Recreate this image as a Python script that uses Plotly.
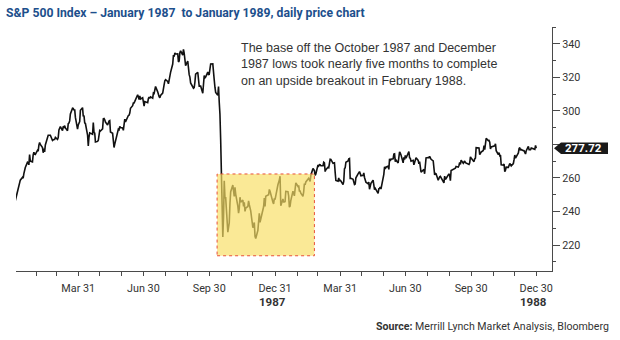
import plotly.graph_objects as go

# ---------------- data (daily closes) ----------------
h1_1987 = [
    ("1987-01-02", 246.45), ("1987-01-05", 252.19), ("1987-01-06", 252.78), ("1987-01-07", 255.33),
    ("1987-01-08", 257.28), ("1987-01-09", 258.73), ("1987-01-12", 260.30), ("1987-01-13", 259.95),
    ("1987-01-14", 262.64), ("1987-01-15", 265.49), ("1987-01-16", 266.28), ("1987-01-19", 269.34),
    ("1987-01-20", 269.04), ("1987-01-21", 267.84), ("1987-01-22", 273.91), ("1987-01-23", 270.10),
    ("1987-01-26", 269.61), ("1987-01-27", 273.75), ("1987-01-28", 275.40), ("1987-01-29", 274.24),
    ("1987-01-30", 274.08), ("1987-02-02", 276.45), ("1987-02-03", 275.99), ("1987-02-04", 279.64),
    ("1987-02-05", 281.16), ("1987-02-06", 280.04), ("1987-02-09", 278.16), ("1987-02-10", 275.07),
    ("1987-02-11", 277.54), ("1987-02-12", 275.62), ("1987-02-13", 279.70), ("1987-02-17", 285.49),
    ("1987-02-18", 285.42), ("1987-02-19", 285.57), ("1987-02-20", 285.48), ("1987-02-23", 282.38),
    ("1987-02-24", 282.88), ("1987-02-25", 283.00), ("1987-02-26", 282.96), ("1987-02-27", 284.20),
    ("1987-03-02", 283.00), ("1987-03-03", 284.12), ("1987-03-04", 288.62), ("1987-03-05", 290.52),
    ("1987-03-06", 290.66), ("1987-03-09", 288.30), ("1987-03-10", 290.86), ("1987-03-11", 290.31),
    ("1987-03-12", 291.22), ("1987-03-13", 289.89), ("1987-03-16", 288.23), ("1987-03-17", 292.47),
    ("1987-03-18", 292.78), ("1987-03-19", 294.08), ("1987-03-20", 298.17), ("1987-03-23", 301.64),
    ("1987-03-24", 301.52), ("1987-03-25", 300.38), ("1987-03-26", 300.93), ("1987-03-27", 296.13),
    ("1987-03-30", 289.20), ("1987-03-31", 291.70), ("1987-04-01", 292.39), ("1987-04-02", 293.63),
    ("1987-04-03", 300.41), ("1987-04-06", 301.95), ("1987-04-07", 296.69), ("1987-04-08", 297.26),
    ("1987-04-09", 292.86), ("1987-04-10", 292.49), ("1987-04-13", 285.62), ("1987-04-14", 279.16),
    ("1987-04-15", 284.44), ("1987-04-16", 286.91), ("1987-04-20", 286.09), ("1987-04-21", 293.07),
    ("1987-04-22", 287.19), ("1987-04-23", 286.82), ("1987-04-24", 281.52), ("1987-04-27", 281.83),
    ("1987-04-28", 282.51), ("1987-04-29", 284.57), ("1987-04-30", 288.36), ("1987-05-01", 288.03),
    ("1987-05-04", 289.36), ("1987-05-05", 295.34), ("1987-05-06", 295.47), ("1987-05-07", 294.71),
    ("1987-05-08", 293.37), ("1987-05-11", 291.57), ("1987-05-12", 293.30), ("1987-05-13", 293.98),
    ("1987-05-14", 294.24), ("1987-05-15", 287.43), ("1987-05-18", 286.65), ("1987-05-19", 279.62),
    ("1987-05-20", 278.21), ("1987-05-21", 280.17), ("1987-05-22", 282.16), ("1987-05-26", 289.11),
    ("1987-05-27", 288.73), ("1987-05-28", 290.76), ("1987-05-29", 290.10), ("1987-06-01", 289.83),
    ("1987-06-02", 288.46), ("1987-06-03", 293.47), ("1987-06-04", 295.09), ("1987-06-05", 293.45),
    ("1987-06-08", 296.72), ("1987-06-09", 297.28), ("1987-06-10", 297.47), ("1987-06-11", 298.73),
    ("1987-06-12", 301.62), ("1987-06-15", 303.14), ("1987-06-16", 304.76), ("1987-06-17", 304.81),
    ("1987-06-18", 305.69), ("1987-06-19", 306.97), ("1987-06-22", 309.65), ("1987-06-23", 308.43),
    ("1987-06-24", 306.86), ("1987-06-25", 308.96), ("1987-06-26", 307.16), ("1987-06-29", 307.90),
    ("1987-06-30", 304.00),
]
h2_1987 = [
    ("1987-07-01", 302.94), ("1987-07-02", 305.63), ("1987-07-06", 304.92), ("1987-07-07", 307.40),
    ("1987-07-08", 308.29), ("1987-07-09", 307.52), ("1987-07-10", 308.37), ("1987-07-13", 307.63),
    ("1987-07-14", 310.68), ("1987-07-15", 310.42), ("1987-07-16", 312.70), ("1987-07-17", 314.59),
    ("1987-07-20", 311.39), ("1987-07-21", 308.55), ("1987-07-22", 308.47), ("1987-07-23", 307.81),
    ("1987-07-24", 309.27), ("1987-07-27", 310.65), ("1987-07-28", 312.33), ("1987-07-29", 315.65),
    ("1987-07-30", 318.05), ("1987-07-31", 318.66), ("1987-08-03", 317.57), ("1987-08-04", 316.23),
    ("1987-08-05", 318.45), ("1987-08-06", 322.10), ("1987-08-07", 323.00), ("1987-08-10", 328.00),
    ("1987-08-11", 333.33), ("1987-08-12", 332.39), ("1987-08-13", 334.65), ("1987-08-14", 333.99),
    ("1987-08-17", 334.11), ("1987-08-18", 329.25), ("1987-08-19", 329.83), ("1987-08-20", 334.84),
    ("1987-08-21", 335.90), ("1987-08-24", 333.33), ("1987-08-25", 336.77), ("1987-08-26", 334.57),
    ("1987-08-27", 331.38), ("1987-08-28", 327.04), ("1987-08-31", 329.80), ("1987-09-01", 323.40),
    ("1987-09-02", 321.68), ("1987-09-03", 320.21), ("1987-09-04", 316.70), ("1987-09-08", 313.56),
    ("1987-09-09", 313.92), ("1987-09-10", 317.13), ("1987-09-11", 321.98), ("1987-09-14", 323.08),
    ("1987-09-15", 317.74), ("1987-09-16", 314.86), ("1987-09-17", 314.93), ("1987-09-18", 314.86),
    ("1987-09-21", 310.54), ("1987-09-22", 319.50), ("1987-09-23", 321.19), ("1987-09-24", 319.72),
    ("1987-09-25", 320.16), ("1987-09-28", 323.20), ("1987-09-29", 321.69), ("1987-09-30", 321.83),
    ("1987-10-01", 327.33), ("1987-10-02", 328.07), ("1987-10-05", 328.08), ("1987-10-06", 319.22),
    ("1987-10-07", 318.54), ("1987-10-08", 314.16), ("1987-10-09", 311.07), ("1987-10-12", 309.39),
    ("1987-10-13", 314.52), ("1987-10-14", 305.23), ("1987-10-15", 298.08), ("1987-10-16", 282.70),
    ("1987-10-19", 224.84), ("1987-10-20", 236.83), ("1987-10-21", 258.38), ("1987-10-22", 248.25),
    ("1987-10-23", 248.22), ("1987-10-26", 227.67), ("1987-10-27", 233.19), ("1987-10-28", 233.28),
    ("1987-10-29", 244.77), ("1987-10-30", 251.79), ("1987-11-02", 255.75), ("1987-11-03", 250.82),
    ("1987-11-04", 248.96), ("1987-11-05", 254.48), ("1987-11-06", 250.41), ("1987-11-09", 243.17),
    ("1987-11-10", 239.00), ("1987-11-11", 241.90), ("1987-11-12", 248.52), ("1987-11-13", 245.64),
    ("1987-11-16", 246.76), ("1987-11-17", 243.04), ("1987-11-18", 245.55), ("1987-11-19", 240.05),
    ("1987-11-20", 242.00), ("1987-11-23", 242.99), ("1987-11-24", 246.39), ("1987-11-25", 244.10),
    ("1987-11-27", 240.34), ("1987-11-30", 230.30), ("1987-12-01", 232.00), ("1987-12-02", 233.45),
    ("1987-12-03", 225.21), ("1987-12-04", 223.92), ("1987-12-07", 228.76), ("1987-12-08", 234.91),
    ("1987-12-09", 238.89), ("1987-12-10", 233.57), ("1987-12-11", 235.32), ("1987-12-14", 242.19),
    ("1987-12-15", 242.81), ("1987-12-16", 248.08), ("1987-12-17", 242.98), ("1987-12-18", 249.16),
    ("1987-12-21", 249.54), ("1987-12-22", 249.95), ("1987-12-23", 253.16), ("1987-12-24", 252.03),
    ("1987-12-28", 245.57), ("1987-12-29", 244.59), ("1987-12-30", 247.86), ("1987-12-31", 247.08),
]
h1_1988 = [
    ("1988-01-04", 255.94), ("1988-01-05", 258.63), ("1988-01-06", 258.89), ("1988-01-07", 261.07),
    ("1988-01-08", 243.40), ("1988-01-11", 247.49), ("1988-01-12", 245.42), ("1988-01-13", 245.81),
    ("1988-01-14", 245.88), ("1988-01-15", 252.05), ("1988-01-18", 251.88), ("1988-01-19", 249.32),
    ("1988-01-20", 242.63), ("1988-01-21", 243.14), ("1988-01-22", 246.50), ("1988-01-25", 252.17),
    ("1988-01-26", 249.57), ("1988-01-27", 249.38), ("1988-01-28", 253.29), ("1988-01-29", 257.07),
    ("1988-02-01", 255.04), ("1988-02-02", 255.57), ("1988-02-03", 252.21), ("1988-02-04", 252.21),
    ("1988-02-05", 250.96), ("1988-02-08", 249.10), ("1988-02-09", 251.72), ("1988-02-10", 256.66),
    ("1988-02-11", 255.95), ("1988-02-12", 257.63), ("1988-02-16", 259.83), ("1988-02-17", 259.21),
    ("1988-02-18", 257.91), ("1988-02-19", 261.61), ("1988-02-22", 265.64), ("1988-02-23", 265.02),
    ("1988-02-24", 264.43), ("1988-02-25", 261.58), ("1988-02-26", 262.46), ("1988-02-29", 267.82),
    ("1988-03-01", 267.22), ("1988-03-02", 267.98), ("1988-03-03", 267.88), ("1988-03-04", 267.30),
    ("1988-03-07", 267.38), ("1988-03-08", 269.43), ("1988-03-09", 269.06), ("1988-03-10", 263.84),
    ("1988-03-11", 264.94), ("1988-03-14", 266.37), ("1988-03-15", 266.13), ("1988-03-16", 268.65),
    ("1988-03-17", 271.22), ("1988-03-18", 271.12), ("1988-03-21", 268.74), ("1988-03-22", 268.84),
    ("1988-03-23", 269.06), ("1988-03-24", 263.35), ("1988-03-25", 258.51), ("1988-03-28", 258.06),
    ("1988-03-29", 260.07), ("1988-03-30", 258.07), ("1988-03-31", 258.89), ("1988-04-04", 256.09),
    ("1988-04-05", 257.92), ("1988-04-06", 265.49), ("1988-04-07", 266.16), ("1988-04-08", 269.43),
    ("1988-04-11", 270.16), ("1988-04-12", 271.37), ("1988-04-13", 271.58), ("1988-04-14", 259.75),
    ("1988-04-15", 259.77), ("1988-04-18", 259.21), ("1988-04-19", 257.92), ("1988-04-20", 256.13),
    ("1988-04-21", 256.42), ("1988-04-22", 260.14), ("1988-04-25", 262.51), ("1988-04-26", 263.93),
    ("1988-04-27", 263.80), ("1988-04-28", 262.61), ("1988-04-29", 261.33), ("1988-05-02", 261.56),
    ("1988-05-03", 263.00), ("1988-05-04", 260.32), ("1988-05-05", 258.79), ("1988-05-06", 257.48),
    ("1988-05-09", 256.54), ("1988-05-10", 257.62), ("1988-05-11", 253.31), ("1988-05-12", 254.63),
    ("1988-05-13", 256.78), ("1988-05-16", 258.71), ("1988-05-17", 256.12), ("1988-05-18", 253.02),
    ("1988-05-19", 253.76), ("1988-05-20", 253.02), ("1988-05-23", 250.83), ("1988-05-24", 253.51),
    ("1988-05-25", 253.76), ("1988-05-26", 254.63), ("1988-05-27", 253.42), ("1988-05-31", 262.16),
    ("1988-06-01", 266.69), ("1988-06-02", 265.33), ("1988-06-03", 266.45), ("1988-06-06", 267.05),
    ("1988-06-07", 265.17), ("1988-06-08", 271.52), ("1988-06-09", 270.20), ("1988-06-10", 271.26),
    ("1988-06-13", 271.43), ("1988-06-14", 274.30), ("1988-06-15", 274.45), ("1988-06-16", 269.77),
    ("1988-06-17", 270.68), ("1988-06-20", 268.94), ("1988-06-21", 271.67), ("1988-06-22", 275.66),
    ("1988-06-23", 274.82), ("1988-06-24", 273.78), ("1988-06-27", 269.06), ("1988-06-28", 272.31),
    ("1988-06-29", 270.98), ("1988-06-30", 273.50),
]
h2_1988 = [
    ("1988-07-01", 271.78), ("1988-07-05", 275.81), ("1988-07-06", 272.02), ("1988-07-07", 271.78),
    ("1988-07-08", 270.02), ("1988-07-11", 270.55), ("1988-07-12", 267.85), ("1988-07-13", 269.32),
    ("1988-07-14", 270.26), ("1988-07-15", 272.05), ("1988-07-18", 270.51), ("1988-07-19", 268.47),
    ("1988-07-20", 269.77), ("1988-07-21", 266.66), ("1988-07-22", 263.50), ("1988-07-25", 264.68),
    ("1988-07-26", 265.19), ("1988-07-27", 262.50), ("1988-07-28", 266.02), ("1988-07-29", 272.02),
    ("1988-08-01", 272.21), ("1988-08-02", 272.06), ("1988-08-03", 272.98), ("1988-08-04", 271.93),
    ("1988-08-05", 271.15), ("1988-08-08", 270.20), ("1988-08-09", 266.49), ("1988-08-10", 261.90),
    ("1988-08-11", 262.75), ("1988-08-12", 262.55), ("1988-08-15", 258.69), ("1988-08-16", 260.56),
    ("1988-08-17", 260.77), ("1988-08-18", 261.03), ("1988-08-19", 260.24), ("1988-08-22", 256.98),
    ("1988-08-23", 257.09), ("1988-08-24", 261.13), ("1988-08-25", 259.18), ("1988-08-26", 259.68),
    ("1988-08-29", 262.33), ("1988-08-30", 262.51), ("1988-08-31", 261.52), ("1988-09-01", 258.35),
    ("1988-09-02", 264.48), ("1988-09-06", 265.59), ("1988-09-07", 265.87), ("1988-09-08", 265.88),
    ("1988-09-09", 266.84), ("1988-09-12", 266.47), ("1988-09-13", 267.43), ("1988-09-14", 269.31),
    ("1988-09-15", 268.13), ("1988-09-16", 270.65), ("1988-09-19", 268.82), ("1988-09-20", 269.73),
    ("1988-09-21", 270.16), ("1988-09-22", 269.18), ("1988-09-23", 268.88), ("1988-09-26", 268.26),
    ("1988-09-27", 268.08), ("1988-09-28", 269.08), ("1988-09-29", 272.59), ("1988-09-30", 271.91),
    ("1988-10-03", 270.62), ("1988-10-04", 269.76), ("1988-10-05", 271.38), ("1988-10-06", 271.86),
    ("1988-10-07", 278.07), ("1988-10-10", 278.24), ("1988-10-11", 277.93), ("1988-10-12", 273.98),
    ("1988-10-13", 275.22), ("1988-10-14", 275.50), ("1988-10-17", 276.41), ("1988-10-18", 279.38),
    ("1988-10-19", 276.97), ("1988-10-20", 282.88), ("1988-10-21", 283.66), ("1988-10-24", 282.28),
    ("1988-10-25", 282.38), ("1988-10-26", 281.38), ("1988-10-27", 277.28), ("1988-10-28", 278.53),
    ("1988-10-31", 278.97), ("1988-11-01", 279.06), ("1988-11-02", 279.20), ("1988-11-03", 280.44),
    ("1988-11-04", 276.31), ("1988-11-07", 273.93), ("1988-11-08", 275.15), ("1988-11-09", 273.33),
    ("1988-11-10", 273.69), ("1988-11-11", 267.92), ("1988-11-14", 267.72), ("1988-11-15", 268.34),
    ("1988-11-16", 263.82), ("1988-11-17", 264.60), ("1988-11-18", 266.47), ("1988-11-21", 266.35),
    ("1988-11-22", 267.21), ("1988-11-23", 268.64), ("1988-11-25", 267.23), ("1988-11-28", 268.64),
    ("1988-11-29", 270.91), ("1988-11-30", 273.70), ("1988-12-01", 271.81), ("1988-12-02", 272.49),
    ("1988-12-05", 274.93), ("1988-12-06", 277.59), ("1988-12-07", 278.13), ("1988-12-08", 276.59),
    ("1988-12-09", 277.03), ("1988-12-12", 276.31), ("1988-12-13", 276.29), ("1988-12-14", 275.31),
    ("1988-12-15", 274.28), ("1988-12-16", 276.29), ("1988-12-19", 278.91), ("1988-12-20", 276.87),
    ("1988-12-21", 276.83), ("1988-12-22", 276.87), ("1988-12-23", 277.87), ("1988-12-27", 276.83),
    ("1988-12-28", 277.08), ("1988-12-29", 279.40), ("1988-12-30", 277.72),
]

tick_dates = ["1987-01-31", "1987-02-28", "1987-03-31", "1987-04-30", "1987-05-31", "1987-06-30",
              "1987-07-31", "1987-08-31", "1987-09-30", "1987-10-31", "1987-11-30", "1987-12-31",
              "1988-01-31", "1988-02-29", "1988-03-31", "1988-04-30", "1988-05-31", "1988-06-30",
              "1988-07-31", "1988-08-31", "1988-09-30", "1988-10-31", "1988-11-30", "1988-12-30"]
tick_labels = ["", "", "Mar 31", "", "", "Jun 30", "", "", "Sep 30", "", "", "Dec 31",
               "", "", "Mar 31", "", "", "Jun 30", "", "", "Sep 30", "", "", "Dec 30"]
year_labels = [("1987-12-31", "1987"), ("1988-12-30", "1988")]
y_ticks = [220, 240, 260, 280, 300, 320, 340]
y_tick_labels = ["220", "240", "260", "", "300", "320", "340"]

# highlighted base region (Oct 1987 - Feb 1988)
base_x = ("1987-10-11", "1988-02-24")
base_y = (213.6, 262.4)

title = "S&P 500 Index \u2013 January 1987  to January 1989, daily price chart"
note = ("The base off the October 1987 and December<br>"
        "1987 lows took nearly five months to complete<br>"
        "on an upside breakout in February 1988.")
source = "<b>Source:</b> Merrill Lynch Market Analysis, Bloomberg"

# ---------------- figure ----------------
rows = h1_1987 + h2_1987 + h1_1988 + h2_1988
dates = [d for d, _ in rows]
closes = [v for _, v in rows]

NARROW = "Roboto, Liberation Sans, Arial, sans-serif"
AXC = "#4a4a4a"
TXT = "#333333"

fig = go.Figure()
fig.add_trace(go.Scatter(x=dates, y=closes, mode="lines",
                         line=dict(color="#111111", width=1.6), hoverinfo="skip"))

fig.add_shape(type="rect", xref="x", yref="y", x0=base_x[0], x1=base_x[1],
              y0=base_y[0], y1=base_y[1], layer="above",
              fillcolor="rgba(248,222,100,0.68)",
              line=dict(color="#e8503a", width=1, dash="dot"))

last = closes[-1]
L, W, H = 552, 536, 244
def px(p):
    return (p - 16) / W
half = 5.7 / (H / (350.1 - 204.5))
fig.add_shape(type="path", xref="paper", yref="y", layer="above",
              path=(f"M {px(554)},{last} L {px(561)},{last + half} L {px(608)},{last + half} "
                    f"L {px(608)},{last - half} L {px(561)},{last - half} Z"),
              fillcolor="#1a1a1a", line=dict(width=0))
fig.add_annotation(xref="paper", yref="y", x=px(583), y=last, text=f"<b>{last:.2f}</b>",
                   showarrow=False, font=dict(family=NARROW, size=11.5, color="white"),
                   xanchor="center", yanchor="middle")

fig.add_annotation(xref="paper", yref="paper", x=px(4), y=(271 - 12.5) / H, text=f"<b>{title}</b>",
                   showarrow=False, xanchor="left", yanchor="middle",
                   font=dict(family=NARROW, size=12.2, color="#1d4f8c"))
fig.add_annotation(xref="paper", yref="paper", x=px(239), y=(271 - 39) / H, text=note,
                   showarrow=False, xanchor="left", yanchor="top", align="left",
                   font=dict(family="Liberation Sans, Arial, sans-serif", size=12.5, color=TXT))
fig.add_annotation(xref="paper", yref="paper", x=px(611), y=(271 - 326) / H, text=source,
                   showarrow=False, xanchor="right", yanchor="middle",
                   font=dict(family=NARROW, size=10.6, color=TXT))
for d, t in year_labels:
    fig.add_annotation(xref="x", yref="paper", x=d, y=(271 - 302) / H, text=f"<b>{t}</b>",
                       showarrow=False, xanchor="center", yanchor="middle", xshift=-3,
                       font=dict(family=NARROW, size=11.5, color=TXT))

fig.update_layout(
    width=620, height=340, margin=dict(l=16, r=68, t=27, b=69),
    paper_bgcolor="white", plot_bgcolor="white", showlegend=False,
    xaxis=dict(type="date", range=["1987-01-03", "1989-01-21"], tickmode="array",
               tickvals=tick_dates, ticktext=tick_labels, ticks="outside", ticklen=4,
               tickcolor=AXC, showline=True, linecolor=AXC, linewidth=1, showgrid=False,
               zeroline=False, ticklabelstandoff=3,
               tickfont=dict(family=NARROW, size=10.8, color=TXT)),
    yaxis=dict(side="right", range=[204.5, 350.1], tickmode="array", tickvals=y_ticks,
               ticktext=y_tick_labels,
               ticks="outside", ticklen=7, tickcolor=AXC, showline=True, linecolor=AXC,
               linewidth=1, showgrid=False, zeroline=False,
               minor=dict(dtick=10, tick0=200, ticks="outside", ticklen=3, tickcolor=AXC),
               tickfont=dict(family=NARROW, size=10.8, color=TXT)),
)

fig.write_html("out.html")
